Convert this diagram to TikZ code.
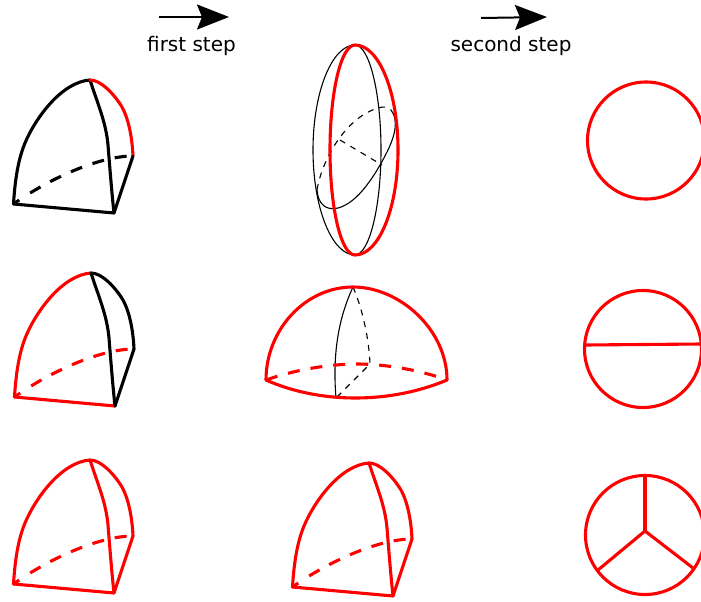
\documentclass[tikz,border=0pt]{standalone}
\usepackage{fontspec}
\setmainfont{DejaVu Sans}
\usetikzlibrary{arrows.meta}
\definecolor{rd}{RGB}{255,0,0}
\tikzset{
  thk/.style={line width=3.1pt,line cap=round,line join=round},
  thn/.style={line width=1.1pt,black},
  red line/.style={thk,draw=rd},
  black line/.style={thk,draw=black},
  dash thick/.style={dash pattern=on 7pt off 13pt on 12pt off 11pt on 12pt off 11pt on 12pt off 11pt on 12pt off 11pt on 12pt off 11pt,line cap=butt},
  dash dome/.style={dash pattern=on 12pt off 11pt,line cap=butt},
  dash thin/.style={dash pattern=on 6pt off 6pt},
  lab/.style={font=\fontsize{20}{22}\selectfont,inner sep=0pt},
  big arrow/.style={line width=2pt,-{Stealth[length=32pt,width=25pt,inset=5pt]}}
}
\newcommand{\wedgeshape}[7]{%
\begin{scope}[shift={(#1,#2)}]
\coordinate (ap) at (90,80);
\coordinate (lf) at (13.5,204);
\coordinate (fr) at (114,213);
\coordinate (rt) at (133,156);
\draw[#7,dash thick] (lf) .. controls (50,178) and (100,156) .. (rt);
\draw[#3] (lf) .. controls (15,180) and (18,160) .. (25,143) .. controls (36,117) and (62,82) .. (ap);
\draw[#4] (ap) .. controls (97,102) and (106,122) .. (108,145) .. controls (110,170) and (112,195) .. (fr);
\draw[#5] (ap) .. controls (101,80) and (114,94) .. (122,107) .. controls (128,118) and (132,135) .. (rt);
\draw[#6] (lf) -- (fr) -- (rt);
\end{scope}}
\begin{document}
\begin{tikzpicture}[x=1pt,y=-1pt]
\useasboundingbox (0,0) rectangle (701,602);
\coordinate (a1s) at (159,17); \coordinate (a1e) at (229,17);
\coordinate (a2s) at (481,18); \coordinate (a2e) at (547,17);
\draw[big arrow] (a1s) -- (a1e);
\draw[big arrow] (a2s) -- (a2e);
\node[lab] (l1) at (191.5,46) {first step};
\node[lab] (l2) at (511,46) {second step};
\wedgeshape{0}{0}{black line}{black line}{red line}{black line}{black line}
\wedgeshape{1}{193}{red line}{black line}{black line}{black line,draw=none}{red line}
\begin{scope}[shift={(1,193)}]
\draw[red line] (13.5,204) -- (114,213);
\draw[black line] (114,213) -- (133,156);
\end{scope}
\wedgeshape{0}{380}{red line}{red line}{red line}{red line}{red line}
\wedgeshape{279}{383}{red line}{red line}{red line}{red line}{red line}
% middle top
\coordinate (tp) at (355,45);
\coordinate (bt) at (355,255);
\draw[thn] (tp) .. controls (332,45) and (313,92) .. (313,150) .. controls (313,208) and (332,255) .. (bt);
\draw[thn] (tp) .. controls (369,45) and (381,92) .. (381,150) .. controls (381,208) and (369,255) .. (bt);
\draw[thn,dash thin] (317,190) .. controls (322,160) and (345,118) .. (378,108) .. controls (384,106) and (388,107) .. (391,110);
\draw[thn] (317,190) .. controls (318,204) and (326,211) .. (338,208) .. controls (358,203) and (376,174) .. (387,152) .. controls (395,136) and (399,120) .. (391,110);
\draw[thn,dash thin] (340,140) -- (382,165);
\draw[red line] (tp) .. controls (341,45) and (330,92) .. (330,150) .. controls (330,208) and (341,255) .. (bt);
\draw[red line] (tp) .. controls (379,45) and (398,92) .. (398,150) .. controls (398,208) and (379,255) .. (bt);
% middle dome
\coordinate (dt) at (353,287);
\coordinate (dl) at (266,380);
\coordinate (dr) at (447,380);
\coordinate (db) at (336,398);
\coordinate (dm) at (370,364);
\draw[thn] (dt) .. controls (340,315) and (332,350) .. (db);
\draw[thn,dash thin] (dt) .. controls (363,310) and (369,340) .. (dm) -- (db);
\draw[red line,dash dome] (dl) .. controls (300,368) and (335,364) .. (357,364) .. controls (385,364) and (420,370) .. (dr);
\draw[red line] (dl) .. controls (266,330) and (305,287) .. (dt) .. controls (400,287) and (447,330) .. (dr);
\draw[red line] (dl) .. controls (320,404) and (390,404) .. (dr);
% right circles
\node[draw=rd,line width=3.1pt,circle,minimum size=117pt,inner sep=0pt] (c1) at (646,140.5) {};
\node[draw=rd,line width=3.1pt,circle,minimum size=117pt,inner sep=0pt] (c2) at (643,349) {};
\coordinate (c2l) at (585,345); \coordinate (c2r) at (701,344);
\draw[red line] (c2l) -- (c2r);
\node[draw=rd,line width=3.1pt,circle,minimum size=119pt,inner sep=0pt] (c3) at (645,535) {};
\coordinate (hub) at (645,531);
\coordinate (s1) at (645,476); \coordinate (s2) at (598,570); \coordinate (s3) at (693,568);
\draw[red line] (hub) -- (s1);
\draw[red line] (hub) -- (s2);
\draw[red line] (hub) -- (s3);
\end{tikzpicture}
\end{document}
